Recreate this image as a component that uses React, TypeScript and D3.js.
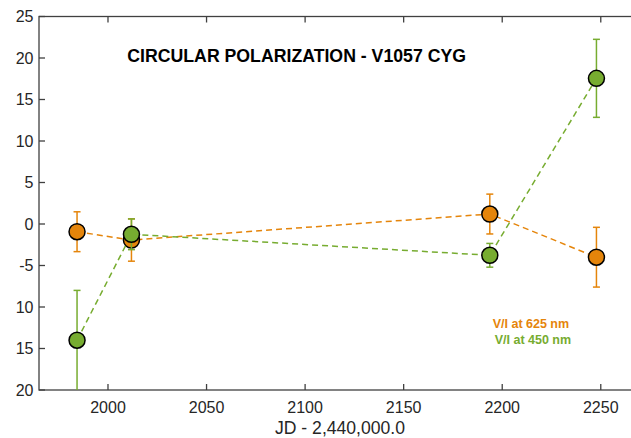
import React from "react";
import * as d3 from "d3";

const jd = [1984.3, 2011.9, 2193.7, 2247.8];
const v625 = [-0.93, -1.93, 1.2, -4.0];
const e625 = [2.4, 2.55, 2.4, 3.6];
const v450 = [-14.0, -1.24, -3.77, 17.55];
const e450 = [6.0, 1.85, 1.43, 4.7];

const xTicks = [2000, 2050, 2100, 2150, 2200, 2250];
const yTicks = [25, 20, 15, 10, 5, 0, -5, -10, -15, -20];
const yTickLabels = ["25", "20", "15", "10", "5", "0", "-5", "10", "15", "20"];

const title = "CIRCULAR POLARIZATION - V1057 CYG";
const xLabel = "JD - 2,440,000.0";
const legendLabels = ["V/I at 625 nm", "V/I at 450 nm"];

const ORANGE = "#E5850B";
const GREEN = "#77AC30";
const AXIS = "#404040";
const FONT = "'Liberation Sans', Arial, Helvetica, sans-serif";

const W = 631;
const H = 438;

export default function App() {
  const x = d3.scaleLinear().domain([1965, 2270]).range([39, 640.2]);
  const y = d3.scaleLinear().domain([-20, 25]).range([390, 16.5]);
  const line = d3
    .line<number>()
    .x((_, i) => x(jd[i]))
    .y((d) => y(d));

  const series = [
    { vals: v625, errs: e625, color: ORANGE },
    { vals: v450, errs: e450, color: GREEN },
  ];

  const [x0, x1] = x.range();
  const [yb, yt] = y.range();
  const tick = 6;

  return (
    <svg
      width={W}
      height={H}
      style={{ position: "absolute", left: 0, top: 0, background: "#fff" }}
      fontFamily={FONT}
    >
      <rect x={0} y={0} width={W} height={H} fill="#fff" />
      {/* axes box */}
      <g stroke={AXIS} strokeWidth={1.3} fill="none">
        <rect x={x0} y={yt} width={x1 - x0} height={yb - yt} />
        {xTicks.map((t) => (
          <g key={"xt" + t}>
            <line x1={x(t)} x2={x(t)} y1={yb} y2={yb - tick} />
            <line x1={x(t)} x2={x(t)} y1={yt} y2={yt + tick} />
          </g>
        ))}
        {yTicks.map((t) => (
          <g key={"yt" + t}>
            <line x1={x0} x2={x0 + tick} y1={y(t)} y2={y(t)} />
            <line x1={x1} x2={x1 - tick} y1={y(t)} y2={y(t)} />
          </g>
        ))}
      </g>
      <g fill="#262626" fontSize={16}>
        {xTicks.map((t) => (
          <text key={"xl" + t} x={x(t)} y={412.5} textAnchor="middle">
            {t}
          </text>
        ))}
        {yTicks.map((t, i) => (
          <text key={"yl" + t} x={33.5} y={y(t)} dy="0.35em" textAnchor="end">
            {yTickLabels[i]}
          </text>
        ))}
      </g>
      <text x={340} y={434} fontSize={17.6} fill="#262626" textAnchor="middle">
        {xLabel}
      </text>

      {series.map((s, si) => (
        <g key={"s" + si}>
          <path
            d={line(s.vals) || ""}
            fill="none"
            stroke={s.color}
            strokeWidth={1.5}
            strokeDasharray="6,4"
          />
          <g stroke={s.color} strokeWidth={1.5}>
            {s.vals.map((v, i) => {
              const cx = x(jd[i]);
              const top = y(Math.min(25, v + s.errs[i]));
              const bot = y(Math.max(-20, v - s.errs[i]));
              return (
                <g key={"e" + i}>
                  <line x1={cx} x2={cx} y1={top} y2={bot} />
                  <line x1={cx - 3.5} x2={cx + 3.5} y1={top} y2={top} />
                  {v - s.errs[i] > -20 && (
                    <line x1={cx - 3.5} x2={cx + 3.5} y1={bot} y2={bot} />
                  )}
                </g>
              );
            })}
          </g>
          {s.vals.map((v, i) => (
            <circle
              key={"m" + i}
              cx={x(jd[i])}
              cy={y(v)}
              r={8}
              fill={s.color}
              stroke="#000"
              strokeWidth={1.5}
            />
          ))}
        </g>
      ))}

      <text
        x={127.3}
        y={61.7}
        fontSize={17.7}
        fontWeight="bold"
        fill="#000"
      >
        {title}
      </text>
      <text x={492.7} y={327.7} fontSize={12.5} fontWeight="bold" fill={ORANGE}>
        {legendLabels[0]}
      </text>
      <text x={494.7} y={344.3} fontSize={12.5} fontWeight="bold" fill={GREEN}>
        {legendLabels[1]}
      </text>
    </svg>
  );
}
